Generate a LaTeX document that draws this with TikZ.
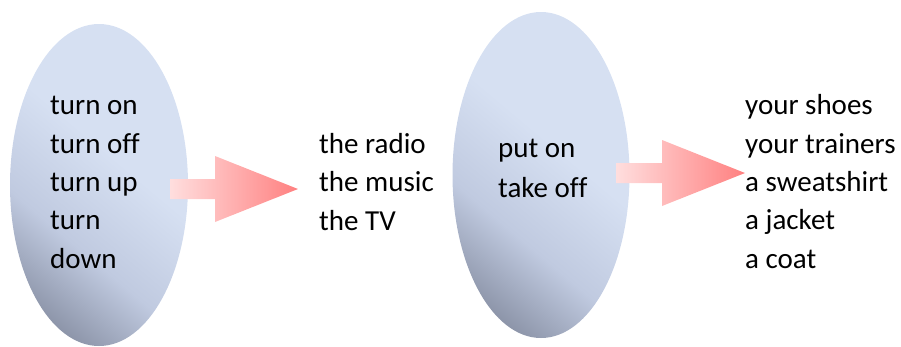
\documentclass[tikz,border=0pt]{standalone}
\usepackage{fontspec}
\setmainfont{Carlito}[Ligatures=NoCommon]
\usetikzlibrary{shapes.geometric}
\definecolor{ovallight}{RGB}{214,224,242}
\definecolor{ovalmid}{RGB}{192,202,224}
\definecolor{ovaldark}{RGB}{136,144,164}
\definecolor{arrowpale}{RGB}{255,222,222}
\definecolor{arrowdeep}{RGB}{255,128,128}
\pgfdeclareverticalshading{ovalshade}{100bp}{color(0bp)=(ovaldark); color(22bp)=(ovaldark); color(38bp)=(ovalmid); color(56bp)=(ovallight); color(100bp)=(ovallight)}

\begin{document}
\begin{tikzpicture}[x=1pt,y=-1pt,
    oval/.style={ellipse,inner sep=0pt,shading=ovalshade,shading angle=-40},
    blockarrow/.style={left color=arrowpale,right color=arrowdeep},
    words/.style={anchor=base west,align=left,inner sep=0pt,
      font=\fontsize{29}{38.3}\selectfont}]
  % canvas: 901 x 346 px
  \useasboundingbox (0,0) rectangle (901,346);
  % ovals
  \node[oval,minimum width=178pt,minimum height=322pt] (verbsA) at (99,185) {};
  \node[oval,minimum width=177pt,minimum height=326pt] (verbsB) at (541,175) {};
  % block arrows: shaft 20 high, head 66 high
  \shade[blockarrow] (170,179) -- (215,179) -- (215,156) -- (298,189)
    -- (215,222) -- (215,199) -- (170,199) -- cycle;
  \shade[blockarrow] (616,163) -- (662,163) -- (662,140) -- (745,173)
    -- (662,206) -- (662,183) -- (616,183) -- cycle;
  % word lists
  \node[words] (listA) at (50,268) {turn on\\turn off\\turn up\\turn\\down};
  \node[words] (listB) at (319,230) {the radio\\the music\\the TV};
  \node[words,font=\fontsize{29}{40}\selectfont] (listC) at (498,197) {put on\\take off};
  \node[words] (listD) at (745,268) {your shoes\\your trainers\\a sweatshirt\\a jacket\\a coat};
\end{tikzpicture}
\end{document}
